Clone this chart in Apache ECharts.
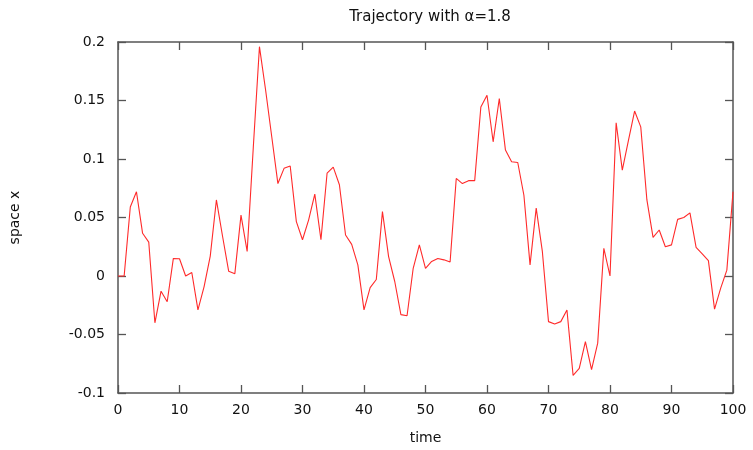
<!DOCTYPE html>
<html>
<head>
<meta charset="utf-8">
<script src="https://cdn.jsdelivr.net/npm/echarts@6/dist/echarts.min.js"></script>
<style>
html,body{margin:0;padding:0;background:#fff;}
#chart{width:753px;height:450px;}
</style>
</head>
<body>
<div id="chart"></div>
<script>
var titleText = 'Trajectory with α=1.8';
var xName = 'time';
var yName = 'space x';
var xTicks = [0,10,20,30,40,50,60,70,80,90,100];
var yTicks = [-0.1,-0.05,0,0.05,0.1,0.15,0.2];
var yTickLabels = ['-0.1','-0.05','0','0.05','0.1','0.15','0.2'];
var times = [0,1,2,3,4,5,6,7,8,9,10,11,12,13,14,15,16,17,18,19,20,21,22,23,24,25,26,27,28,29,30,31,32,33,34,35,36,37,38,39,40,41,42,43,44,45,46,47,48,49,50,51,52,53,54,55,56,57,58,59,60,61,62,63,64,65,66,67,68,69,70,71,72,73,74,75,76,77,78,79,80,81,82,83,84,85,86,87,88,89,90,91,92,93,94,95,96,97,98,99,100];
var positions = [0,0,0.059,0.072,0.0365,0.029,-0.040,-0.013,-0.022,0.015,0.0147,0,0.003,-0.029,-0.009,0.017,0.065,0.034,0.004,0.002,0.052,0.021,0.11,0.196,0.159,0.119,0.079,0.092,0.094,0.0465,0.031,0.048,0.070,0.031,0.088,0.093,0.078,0.035,0.027,0.0095,-0.029,-0.010,-0.003,0.055,0.0166,-0.0047,-0.033,-0.034,0.0066,0.0266,0.0066,0.0124,0.015,0.0138,0.012,0.0834,0.079,0.0815,0.0815,0.1445,0.1545,0.1147,0.1517,0.1076,0.0976,0.097,0.069,0.0095,0.058,0.021,-0.039,-0.041,-0.039,-0.029,-0.085,-0.079,-0.056,-0.080,-0.0574,0.0237,0,0.131,0.0905,0.116,0.141,0.1275,0.065,0.033,0.0393,0.025,0.0266,0.0484,0.050,0.054,0.0245,0.019,0.0132,-0.0283,-0.0104,0.005,0.072];

var seriesData = times.map(function(t,i){return [t, positions[i]];});
var font = 'DejaVu Sans';
var axisColor = '#555';
function yLabel(v){
  for (var i=0;i<yTicks.length;i++){ if (Math.abs(yTicks[i]-v)<1e-9) return yTickLabels[i]; }
  return '';
}
var xMin = xTicks[0], xMax = xTicks[xTicks.length-1], xInt = xTicks[1]-xTicks[0];
var yMin = yTicks[0], yMax = yTicks[yTicks.length-1], yInt = 0.05;

var baseX = {
  type:'value', min:xMin, max:xMax, interval:xInt,
  axisLine:{show:true,onZero:false,lineStyle:{color:axisColor,width:1.5}},
  axisTick:{show:true,inside:true,length:8,lineStyle:{color:axisColor,width:1.3}},
  splitLine:{show:false}
};
var baseY = {
  type:'value', min:yMin, max:yMax, interval:yInt,
  axisLine:{show:true,onZero:false,lineStyle:{color:axisColor,width:1.5}},
  axisTick:{show:true,inside:true,length:8,lineStyle:{color:axisColor,width:1.3}},
  splitLine:{show:false}
};

var chart = echarts.init(document.getElementById('chart'), null, {renderer:'canvas'});
chart.setOption({
  animation:false,
  backgroundColor:'#fff',
  title:{
    text:titleText, left:425, top:5, textAlign:'center',
    textStyle:{fontFamily:font,fontSize:15,fontWeight:'normal',color:'#111'}
  },
  grid:{left:117,right:20,top:42,bottom:57,containLabel:false},
  xAxis:[
    Object.assign({}, baseX, {
      position:'bottom',
      name:xName, nameLocation:'middle', nameGap:38,
      nameTextStyle:{fontFamily:font,fontSize:14,color:'#111'},
      axisLabel:{show:true,margin:10,fontFamily:font,fontSize:14,color:'#111'}
    }),
    Object.assign({}, baseX, {position:'top', axisLabel:{show:false}})
  ],
  yAxis:[
    Object.assign({}, baseY, {
      position:'left',
      name:yName, nameLocation:'middle', nameGap:96, nameRotate:90,
      nameTextStyle:{fontFamily:font,fontSize:14,color:'#111'},
      axisLabel:{show:true,margin:13,fontFamily:font,fontSize:14,color:'#111',formatter:yLabel}
    }),
    Object.assign({}, baseY, {position:'right', axisLabel:{show:false}})
  ],
  series:[{
    type:'line', xAxisIndex:0, yAxisIndex:0,
    data:seriesData, showSymbol:false, symbol:'none',
    lineStyle:{color:'#ff2a2a',width:1.1},
    silent:true
  }]
});
</script>
</body>
</html>
